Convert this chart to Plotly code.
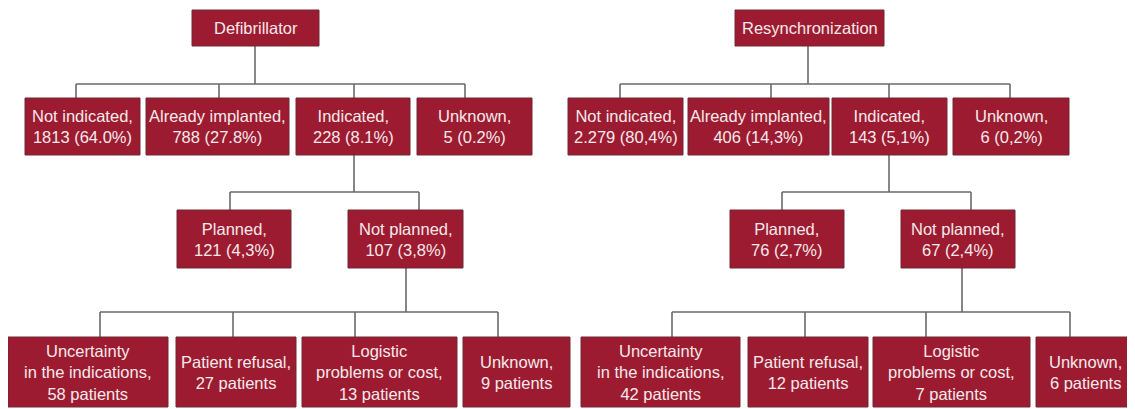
import plotly.graph_objects as go

# ---------------- data ----------------
devices = ["Defibrillator", "Resynchronization"]

level1_labels = ["Not indicated", "Already implanted", "Indicated", "Unknown"]
defib_level1_counts = [1813, 788, 228, 5]
defib_level1_pct = [64.0, 27.8, 8.1, 0.2]
resync_level1_counts = [2279, 406, 143, 6]
resync_level1_pct = [80.4, 14.3, 5.1, 0.2]

level2_labels = ["Planned", "Not planned"]
defib_level2_counts = [121, 107]
defib_level2_pct = [4.3, 3.8]
resync_level2_counts = [76, 67]
resync_level2_pct = [2.7, 2.4]

level3_labels = ["Uncertainty<br>in the indications", "Patient refusal",
                 "Logistic<br>problems or cost", "Unknown"]
defib_level3_patients = [58, 27, 13, 9]
resync_level3_patients = [42, 12, 7, 6]

# ---------------- formatting ----------------
def fmt_count(n, thousands):
    s = str(n)
    if thousands and n >= 1000:
        s = s[:-3] + thousands + s[-3:]
    return s

def fmt_pct(p, dec):
    return ("%.1f" % p).replace(".", dec) + "%"

def l1_text(lbl, n, p, dec, th):
    return f"{lbl},<br>{fmt_count(n, th)} ({fmt_pct(p, dec)})"

def l3_text(lbl, n):
    return f"{lbl},<br>{n} patients"

# ---------------- layout (pixel geometry) ----------------
panels = [
    dict(
        top=(192, 319), top_x=255,
        l1=[(25, 140), (146, 289), (296, 410), (417, 532)], l1_drops=[76, 219, 354, 465],
        l2=[(177, 291), (348, 463)], l2_drops=[230, 419], l2_from=354,
        l3=[(8, 168), (176, 296), (302, 457), (463, 570)], l3_drops=[100, 233, 355, 498], l3_from=406,
        l1_counts=defib_level1_counts, l1_pct=defib_level1_pct, l1_dec=".", l1_th="",
        l2_counts=defib_level2_counts, l2_pct=defib_level2_pct, l2_dec=",",
        l3_vals=defib_level3_patients,
    ),
    dict(
        top=(735, 884), top_x=808,
        l1=[(568, 683), (688, 829), (832, 947), (953, 1069)], l1_drops=[620, 771, 889, 1010],
        l2=[(730, 844), (901, 1015)], l2_drops=[782, 971], l2_from=889,
        l3=[(581, 740), (748, 868), (873, 1030), (1036, 1135)], l3_drops=[672, 805, 926, 1070], l3_from=962,
        l1_counts=resync_level1_counts, l1_pct=resync_level1_pct, l1_dec=",", l1_th=".",
        l2_counts=resync_level2_counts, l2_pct=resync_level2_pct, l2_dec=",",
        l3_vals=resync_level3_patients,
    ),
]

Y_TOP = (10, 46)
Y_L1 = (98, 155)
Y_L2 = (210, 268)
Y_L3 = (337, 407)
H1, H2, H3 = 84, 192, 312

FILL = "#9c1b30"
BORDER = "#6e2a34"
LINE = "#6a6a6a"
TXT = "#f6e9eb"
FONT = "Arial, Liberation Sans, sans-serif"
FS = 16.5

shapes = []
annotations = []

def box(x0, x1, y0, y1, text):
    shapes.append(dict(type="rect", xref="x", yref="y", x0=x0, x1=x1, y0=y0, y1=y1,
                       fillcolor=FILL, line=dict(color=BORDER, width=1), layer="above"))
    annotations.append(dict(x=(x0 + x1) / 2, y=(y0 + y1) / 2, xref="x", yref="y",
                            text=text, showarrow=False, align="center",
                            font=dict(family=FONT, size=FS, color=TXT)))

def line(x0, y0, x1, y1):
    shapes.append(dict(type="line", xref="x", yref="y", x0=x0, y0=y0, x1=x1, y1=y1,
                       line=dict(color=LINE, width=1.6), layer="below"))

for dev, p in zip(devices, panels):
    line(p["top_x"], Y_TOP[1], p["top_x"], H1)
    line(p["l1_drops"][0], H1, p["l1_drops"][-1], H1)
    for d in p["l1_drops"]:
        line(d, H1, d, Y_L1[0])
    line(p["l2_from"], Y_L1[1], p["l2_from"], H2)
    line(p["l2_drops"][0], H2, p["l2_drops"][-1], H2)
    for d in p["l2_drops"]:
        line(d, H2, d, Y_L2[0])
    line(p["l3_from"], Y_L2[1], p["l3_from"], H3)
    line(p["l3_drops"][0], H3, p["l3_drops"][-1], H3)
    for d in p["l3_drops"]:
        line(d, H3, d, Y_L3[0])

    box(p["top"][0], p["top"][1], Y_TOP[0], Y_TOP[1], dev)
    for (x0, x1), lbl, n, pc in zip(p["l1"], level1_labels, p["l1_counts"], p["l1_pct"]):
        box(x0, x1, Y_L1[0], Y_L1[1], l1_text(lbl, n, pc, p["l1_dec"], p["l1_th"]))
    for (x0, x1), lbl, n, pc in zip(p["l2"], level2_labels, p["l2_counts"], p["l2_pct"]):
        box(x0, x1, Y_L2[0], Y_L2[1], l1_text(lbl, n, pc, p["l2_dec"], ""))
    for (x0, x1), lbl, n in zip(p["l3"], level3_labels, p["l3_vals"]):
        box(x0, x1, Y_L3[0], Y_L3[1], l3_text(lbl, n))

# the page body has an 8px margin: shift axis ranges so screen pixel == coordinate
OFF = 8
fig = go.Figure()
fig.add_trace(go.Scatter(x=[OFF, 1135 + OFF], y=[OFF, 409 + OFF], mode="markers",
                         marker=dict(opacity=0), hoverinfo="skip", showlegend=False))
fig.update_layout(
    width=1135, height=409,
    margin=dict(l=0, r=0, t=0, b=0),
    paper_bgcolor="white", plot_bgcolor="white",
    xaxis=dict(range=[OFF, 1135 + OFF], visible=False, fixedrange=True),
    yaxis=dict(range=[409 + OFF, OFF], visible=False, fixedrange=True),
    shapes=shapes, annotations=annotations, showlegend=False,
)
fig.write_html("out.html")
